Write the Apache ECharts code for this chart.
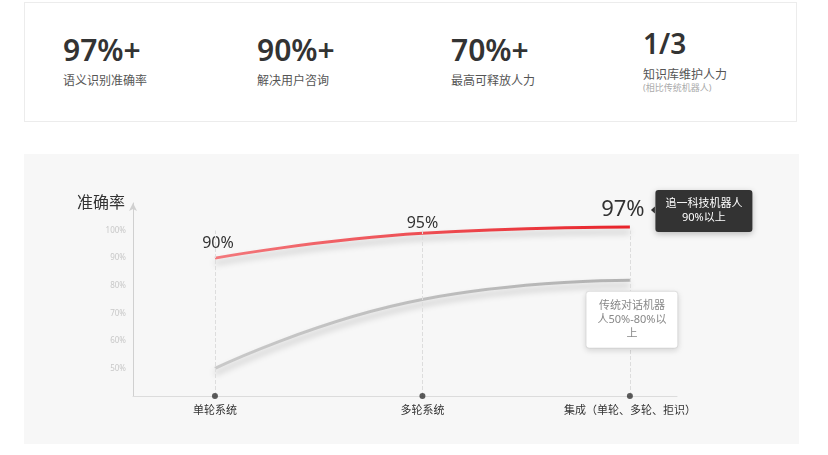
<!DOCTYPE html>
<html><head><meta charset="utf-8">
<script src="https://cdn.jsdelivr.net/npm/echarts@6/dist/echarts.min.js"></script>
<style>
html,body{margin:0;padding:0;background:#fff;width:828px;height:455px;overflow:hidden;font-family:"Noto Sans","Noto Sans CJK SC",sans-serif;}
#card{position:absolute;left:24px;top:2px;width:773px;height:120px;border:1px solid #ececec;box-sizing:border-box;background:#fff;}
.big{position:absolute;font-size:30px;line-height:30px;font-weight:600;color:#333;white-space:nowrap;}
.lab{position:absolute;font-size:12px;line-height:12px;color:#555;white-space:nowrap;}
.sub{position:absolute;font-size:9px;line-height:9px;color:#aaa;white-space:nowrap;}
#panel{position:absolute;left:24px;top:154px;width:775px;height:290px;background:#f7f7f7;}
#chart{position:absolute;left:0;top:0;width:828px;height:455px;}
</style></head>
<body>
<div id="card"></div>
<div id="stats"></div>
<div id="panel"></div>
<div id="chart"></div>
<script>
// ---- data ----
const statValues = ['97%+', '90%+', '70%+', '1/3'];
const statLabels = ['语义识别准确率', '解决用户咨询', '最高可释放人力', '知识库维护人力'];
const statNotes = ['', '', '', '(相比传统机器人)'];
const categories = ['单轮系统', '多轮系统', '集成（单轮、多轮、拒识）'];
const zhuiyiValues = [90, 99, 101.3];
const zhuiyiLabels = ['90%', '95%', '97%'];
const traditionalValues = [50, 75, 82];
const yTickValues = [50, 60, 70, 80, 90, 100];
const zhuiyiNote = ['追一科技机器人', '90%以上'];
const traditionalNote = ['传统对话机器', '人50%-80%以', '上'];

// ---- top stats (html text) ----
const statX = [63, 257, 451, 643];
const stats = document.getElementById('stats');
statValues.forEach((v, i) => {
  const last = i === 3;
  const b = document.createElement('div');
  b.className = 'big'; b.textContent = v;
  b.style.left = statX[i] + 'px';
  b.style.top = (last ? 29 : 35) + 'px';
  if (last) { b.style.fontSize = '28px'; b.style.lineHeight = '28px'; }
  stats.appendChild(b);
  const l = document.createElement('div');
  l.className = 'lab'; l.textContent = statLabels[i];
  l.style.left = statX[i] + 'px';
  l.style.top = (last ? 69 : 75) + 'px';
  stats.appendChild(l);
  if (statNotes[i]) {
    const s = document.createElement('div');
    s.className = 'sub'; s.textContent = statNotes[i];
    s.style.left = statX[i] + 'px';
    s.style.top = '83px';
    stats.appendChild(s);
  }
});

// ---- chart ----
const chart = echarts.init(document.getElementById('chart'), null, {renderer: 'canvas'});
const FONT = '"Noto Sans","Noto Sans CJK SC",sans-serif';
const labelSizes = [16, 16, 22];
const labelOffsets = [[3, 0], [0, 0], [-7, 0]];
const labelDist = [7, 2, 6];
const last = categories.length - 1;

const option = {
  backgroundColor: 'transparent',
  animation: false,
  textStyle: {fontFamily: FONT},
  grid: {left: 133, right: 151, top: 203, bottom: 59},
  xAxis: {
    type: 'value', min: -0.395, max: 2.227,
    axisLine: {show: true, onZero: false, lineStyle: {color: '#dcdcdc', width: 1}},
    axisTick: {show: false},
    splitLine: {show: false},
    axisLabel: {
      customValues: categories.map((c, i) => i),
      formatter: v => categories[Math.round(v)] || '',
      color: '#333', fontSize: 11, margin: 9, fontFamily: FONT
    }
  },
  yAxis: {
    type: 'value', min: 40, max: 110,
    name: '准确率', nameLocation: 'end', nameGap: 0,
    nameTextStyle: {color: '#333', fontSize: 16, align: 'right', verticalAlign: 'middle', padding: [0, 8, 0, 0], fontFamily: FONT},
    axisLine: {show: true, onZero: false, symbol: ['none', 'arrow'], symbolSize: [6, 8], lineStyle: {color: '#d0d0d0', width: 1}},
    axisTick: {show: false},
    splitLine: {show: false},
    axisLabel: {customValues: yTickValues, formatter: '{value}%', color: '#c8c8c8', fontSize: 8, margin: 7, fontFamily: FONT}
  },
  series: [
    {
      type: 'line', name: 'guides', silent: true, data: [],
      markLine: {
        silent: true, symbol: 'none', label: {show: false},
        lineStyle: {type: 'dashed', color: '#dddddd', width: 1},
        data: categories.map((c, i) => [{coord: [i, 40]}, {coord: [i, 100]}])
      }
    },
    {
      type: 'line', name: '传统对话机器人', smooth: true, z: 3,
      data: traditionalValues.map((v, i) => [i, v]),
      symbol: 'circle', symbolSize: 0.1, itemStyle: {color: 'rgba(0,0,0,0)'},
      lineStyle: {
        width: 3,
        color: new echarts.graphic.LinearGradient(0, 0, 1, 0, [{offset: 0, color: '#c9c9c9'}, {offset: 1, color: '#b2b2b2'}]),
        shadowColor: 'rgba(0,0,0,0.22)', shadowBlur: 6, shadowOffsetY: 5
      },
      markPoint: {
        silent: true,
        data: [{
          coord: [last, traditionalValues[last]], symbol: 'circle', symbolSize: 1,
          itemStyle: {color: 'rgba(0,0,0,0)'},
          label: {
            show: true, position: 'bottom', distance: 11, offset: [2, 0],
            formatter: traditionalNote.map(t => '{a|' + t + '}').join('\n'),
            backgroundColor: '#fff', borderColor: '#e4e4e4', borderWidth: 1, borderRadius: 3,
            padding: [7, 11], shadowColor: 'rgba(0,0,0,0.12)', shadowBlur: 6, shadowOffsetY: 2,
            rich: {a: {color: '#888', fontSize: 11, lineHeight: 14, align: 'center', fontFamily: FONT}}
          }
        }]
      }
    },
    {
      type: 'line', name: '追一科技机器人', smooth: true, z: 4,
      data: zhuiyiValues.map((v, i) => ({
        value: [i, v],
        label: {fontSize: labelSizes[i], offset: labelOffsets[i], distance: labelDist[i]}
      })),
      symbol: 'circle', symbolSize: 0.1, itemStyle: {color: 'rgba(0,0,0,0)'},
      label: {
        show: true, position: 'top', color: '#333', fontFamily: FONT,
        formatter: p => zhuiyiLabels[p.dataIndex]
      },
      lineStyle: {
        width: 3,
        color: new echarts.graphic.LinearGradient(0, 0, 1, 0, [{offset: 0, color: '#f3797d'}, {offset: 1, color: '#e8232a'}]),
        shadowColor: 'rgba(0,0,0,0.22)', shadowBlur: 6, shadowOffsetY: 5
      },
      markPoint: {
        silent: true,
        data: [{
          coord: [last, zhuiyiValues[last]], symbol: 'circle', symbolSize: 1,
          itemStyle: {color: 'rgba(0,0,0,0)'},
          label: {
            show: true, position: 'right', distance: 25, offset: [0, -16],
            formatter: zhuiyiNote.map(t => '{a|' + t + '}').join('\n'),
            backgroundColor: '#333', borderRadius: 3, padding: [7, 10],
            shadowColor: 'rgba(0,0,0,0.25)', shadowBlur: 6, shadowOffsetY: 2,
            rich: {a: {color: '#fff', fontSize: 11, lineHeight: 14, align: 'center', fontFamily: FONT}}
          }
        }, {
          coord: [last, zhuiyiValues[last]], symbol: 'triangle', symbolSize: [7, 4], symbolRotate: 90,
          symbolOffset: [23, -17], itemStyle: {color: '#333'}, label: {show: false}
        }]
      }
    },
    {
      type: 'scatter', name: 'ticks', silent: true, z: 5, clip: false,
      data: categories.map((c, i) => [i, 40]),
      symbol: 'circle', symbolSize: 6, itemStyle: {color: '#333'}
    }
  ]
};
chart.setOption(option);
</script>
</body></html>
